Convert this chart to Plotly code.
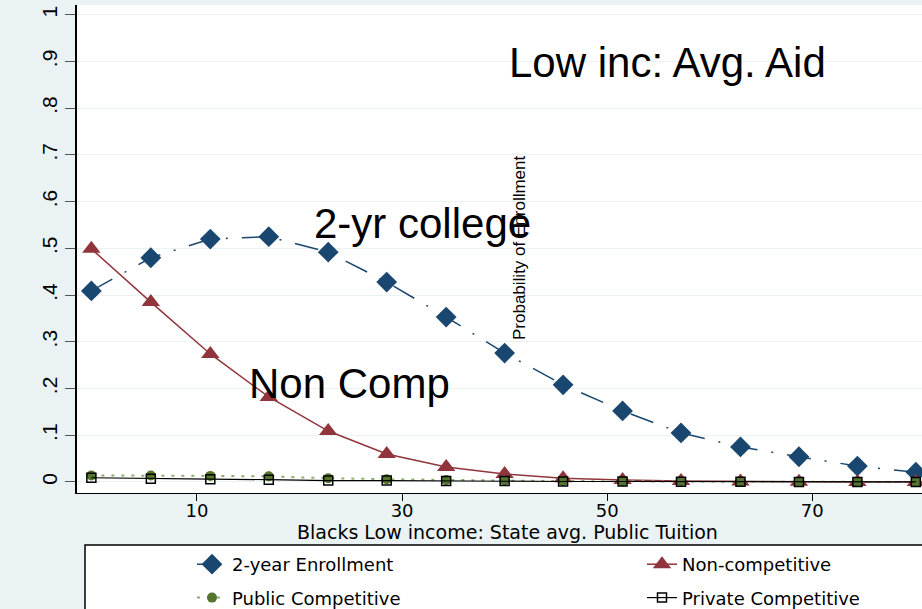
import plotly.graph_objects as go

tuition = [-0.3, 5.5, 11.3, 17.0, 22.8, 28.5, 34.3, 40.0, 45.7, 51.5, 57.2, 63.0, 68.7, 74.4, 80.1]
two_year = [0.409, 0.480, 0.520, 0.525, 0.492, 0.428, 0.353, 0.276, 0.208, 0.152, 0.105, 0.075, 0.054, 0.034, 0.021]
non_comp = [0.499, 0.385, 0.274, 0.182, 0.109, 0.060, 0.032, 0.017, 0.008, 0.004, 0.002, 0.001, 0.0005, 0.0002, 0.0001]
public_comp = [0.014, 0.014, 0.013, 0.012, 0.008, 0.006, 0.004, 0.003, 0.002, 0.001, 0.001, 0.0005, 0.0003, 0.0002, 0.0001]
private_comp = [0.009, 0.007, 0.006, 0.005, 0.003, 0.003, 0.002, 0.002, 0.001, 0.001, 0.0005, 0.0003, 0.0002, 0.0001, 0.0001]

y_ticks = [0, 0.1, 0.2, 0.3, 0.4, 0.5, 0.6, 0.7, 0.8, 0.9, 1.0]
y_labels = ["0", ".1", ".2", ".3", ".4", ".5", ".6", ".7", ".8", ".9", "1"]
x_ticks = [10, 30, 50, 70]

BG = "#eaf2f3"
W, H = 922, 609
L, R, T, B = 77, 0, 5, 116
pw, ph = W - L - R, H - T - B

def px(xp):
    return (xp - L) / pw

def py(yp):
    return (H - B - yp) / ph

fig = go.Figure()
fig.add_trace(go.Scatter(
    x=tuition, y=two_year, name="2-year Enrollment", mode="lines+markers",
    legend="legend", legendgroup="a",
    line=dict(color="#1a476f", width=1.5, dash="24px,14px,2px,14px"),
    marker=dict(symbol="diamond", size=16, color="#1a476f")))
fig.add_trace(go.Scatter(
    x=tuition, y=non_comp, name="Non-competitive", mode="lines+markers",
    legend="legend2", legendgroup="b",
    line=dict(color="#90353b", width=1.5),
    marker=dict(symbol="triangle-up", size=16, color="#90353b")))
fig.add_trace(go.Scatter(
    x=tuition, y=public_comp, name="Public Competitive", mode="lines+markers",
    legend="legend", legendgroup="c",
    line=dict(color="#8fae6e", width=2, dash="3px,7px"),
    marker=dict(symbol="circle", size=10, color="#55752f")))
fig.add_trace(go.Scatter(
    x=tuition, y=private_comp, name="Private Competitive", mode="lines+markers",
    legend="legend2", legendgroup="d",
    line=dict(color="black", width=1.2),
    marker=dict(symbol="square-open", size=9, color="black", line=dict(width=1.5))))

leg_common = dict(orientation="v", xanchor="left", yanchor="top",
                  bgcolor="rgba(0,0,0,0)", borderwidth=0, tracegroupgap=7,
                  font=dict(family="DejaVu Sans", size=18, color="black"))

fig.update_layout(
    width=W, height=H,
    margin=dict(l=L, r=R, t=T, b=B, autoexpand=False),
    paper_bgcolor=BG, plot_bgcolor="white",
    font=dict(family="DejaVu Sans", color="black"),
    showlegend=True,
    legend=dict(x=px(192), y=py(546), **leg_common),
    legend2=dict(x=px(642), y=py(546), **leg_common),
    xaxis=dict(range=[-1.7, 80.7], tickvals=x_ticks, ticks="outside", ticklen=7,
               tickcolor="black", showgrid=False, zeroline=False, showline=True,
               linecolor="black", linewidth=1, ticklabelstandoff=-6,
               tickfont=dict(family="DejaVu Sans", size=18)),
    yaxis=dict(range=[-0.0236, 1.021], tickvals=y_ticks, ticktext=y_labels,
               tickangle=-90, ticks="outside", ticklen=10, tickcolor="#555555",
               showgrid=True, gridcolor=BG, gridwidth=1, zeroline=False,
               showline=True, linecolor="black", linewidth=2,
               tickfont=dict(family="Liberation Sans", size=21)),
    shapes=[dict(type="rect", xref="paper", yref="paper",
                 x0=px(85), x1=px(935), y0=py(545), y1=py(620),
                 fillcolor="white", line=dict(color="black", width=1.5), layer="below")],
)

fig.add_annotation(text="Blacks Low income: State avg. Public Tuition", xref="paper", yref="paper",
                   x=px(507), y=py(532), showarrow=False, xanchor="center", yanchor="middle",
                   font=dict(family="DejaVu Sans", size=19, color="black"))
fig.add_annotation(text="Low inc: Avg. Aid", xref="paper", yref="paper",
                   x=px(667), y=py(63), showarrow=False, xanchor="center", yanchor="middle",
                   font=dict(family="Liberation Sans", size=42, color="black"))
fig.add_annotation(text="2-yr college", xref="paper", yref="paper",
                   x=px(422), y=py(223), showarrow=False, xanchor="center", yanchor="middle",
                   font=dict(family="Liberation Sans", size=42, color="black"))
fig.add_annotation(text="Non Comp", xref="paper", yref="paper",
                   x=px(349), y=py(383), showarrow=False, xanchor="center", yanchor="middle",
                   font=dict(family="Liberation Sans", size=42, color="black"))
fig.add_annotation(text="Probability of Enrollment", xref="paper", yref="paper",
                   x=px(519), y=py(248), showarrow=False, textangle=-90,
                   xanchor="center", yanchor="middle",
                   font=dict(family="Liberation Sans", size=17, color="black"))

fig.write_html("out.html")
